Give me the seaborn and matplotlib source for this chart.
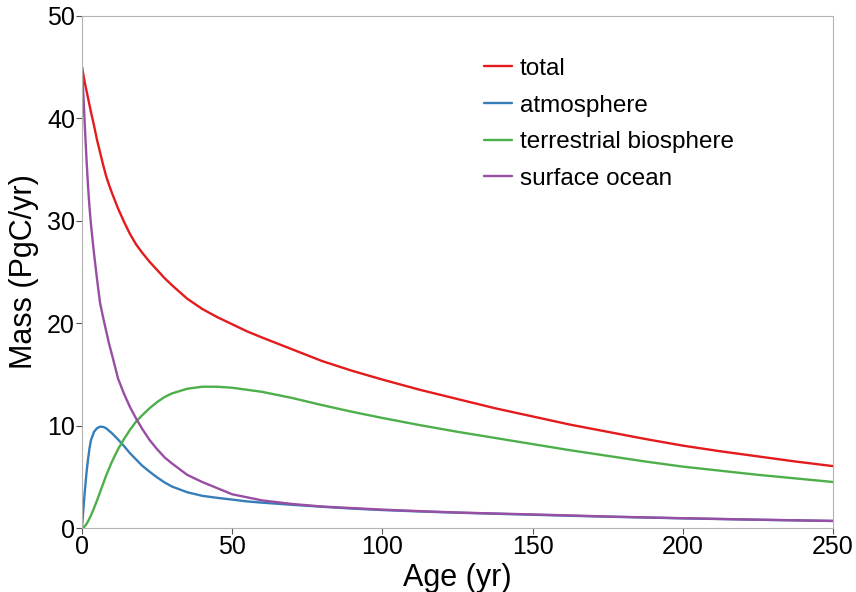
import matplotlib
matplotlib.use("Agg")
import matplotlib.pyplot as plt
import seaborn as sns
import pandas as pd

# Age (yr) sample points
age = [0, 0.5, 1, 1.5, 2, 2.5, 3, 4, 5, 6, 7, 8, 9, 10, 12, 14, 16, 18, 20,
       22.5, 25, 27.5, 30, 35, 40, 45, 50, 55, 60, 70, 80, 90, 100, 112.5,
       125, 137.5, 150, 162.5, 175, 187.5, 200, 212.5, 225, 237.5, 250]

# Mass (PgC/yr) for each reservoir
total = [45.0, 44.2, 43.4, 42.7, 42.0, 41.3, 40.6, 39.3, 37.9, 36.7, 35.5,
         34.4, 33.5, 32.7, 31.2, 29.9, 28.7, 27.7, 26.9, 26.0, 25.2, 24.4,
         23.7, 22.4, 21.4, 20.6, 19.9, 19.2, 18.6, 17.45, 16.3, 15.35, 14.5,
         13.5, 12.6, 11.7, 10.9, 10.1, 9.4, 8.7, 8.05, 7.5, 7.0, 6.5, 6.05]
atmosphere = [0.0, 2.0, 3.8, 5.4, 6.7, 7.8, 8.6, 9.4, 9.75, 9.9, 9.88, 9.75,
              9.5, 9.25, 8.65, 8.0, 7.3, 6.7, 6.1, 5.5, 4.95, 4.45, 4.05,
              3.5, 3.15, 2.95, 2.78, 2.6, 2.48, 2.27, 2.08, 1.9, 1.76, 1.62,
              1.5, 1.4, 1.3, 1.2, 1.11, 1.03, 0.95, 0.88, 0.81, 0.75, 0.69]
terrestrial = [0.0, 0.05, 0.2, 0.4, 0.65, 0.95, 1.25, 1.95, 2.7, 3.5, 4.3,
               5.1, 5.8, 6.5, 7.7, 8.7, 9.6, 10.4, 11.0, 11.7, 12.3, 12.8,
               13.15, 13.6, 13.8, 13.8, 13.7, 13.5, 13.3, 12.7, 12.0, 11.35,
               10.75, 10.05, 9.4, 8.8, 8.2, 7.6, 7.05, 6.5, 6.0, 5.6, 5.2,
               4.85, 4.5]
ocean = [45.0, 42.0, 38.9, 36.0, 33.4, 31.3, 29.6, 26.8, 24.3, 22.0, 20.6,
         19.3, 18.0, 16.9, 14.6, 13.1, 11.8, 10.7, 9.7, 8.6, 7.7, 6.9, 6.3,
         5.2, 4.5, 3.9, 3.3, 3.0, 2.7, 2.35, 2.1, 1.95, 1.8, 1.65, 1.52,
         1.42, 1.33, 1.23, 1.13, 1.04, 0.96, 0.89, 0.82, 0.76, 0.7]

labels = ["total", "atmosphere", "terrestrial biosphere", "surface ocean"]
series = [total, atmosphere, terrestrial, ocean]

frames = []
for name, vals in zip(labels, series):
    frames.append(pd.DataFrame({"Age": age, "Mass": vals, "reservoir": name}))
df = pd.concat(frames, ignore_index=True)

sns.set_style("white")
plt.rcParams["font.family"] = ["Liberation Sans", "DejaVu Sans"]
plt.rcParams["text.color"] = "black"
plt.rcParams["axes.labelcolor"] = "black"
plt.rcParams["xtick.color"] = "black"
plt.rcParams["ytick.color"] = "black"

fig = plt.figure(figsize=(8.56, 5.92), dpi=100)
ax = fig.add_axes([0.0958, 0.108, 0.8772, 0.865])

colors = sns.color_palette("Set1", 4)
sns.lineplot(data=df, x="Age", y="Mass", hue="reservoir", hue_order=labels,
             palette=colors, linewidth=1.7, ax=ax)

ax.set_xlim(0, 250)
ax.set_ylim(0, 50)
ax.set_xticks([0, 50, 100, 150, 200, 250])
ax.set_yticks([0, 10, 20, 30, 40, 50])
ax.set_xlabel("Age (yr)", fontsize=22, labelpad=3)
ax.set_ylabel("Mass (PgC/yr)", fontsize=22, labelpad=6)
ax.tick_params(axis="both", labelsize=18, length=4, width=0.8,
               direction="out", pad=1, bottom=True, left=True)
ax.tick_params(axis="both", color="#555555")
for s in ax.spines.values():
    s.set_color("#b3b3b3")
    s.set_linewidth(0.8)

leg = ax.legend(loc="upper left", bbox_to_anchor=(0.523, 0.937), frameon=False,
                fontsize=17.5, handlelength=1.15, handletextpad=0.3,
                labelspacing=0.6, borderaxespad=0)
for line in leg.get_lines():
    line.set_linewidth(1.7)

fig.savefig("out.png", dpi=100)
